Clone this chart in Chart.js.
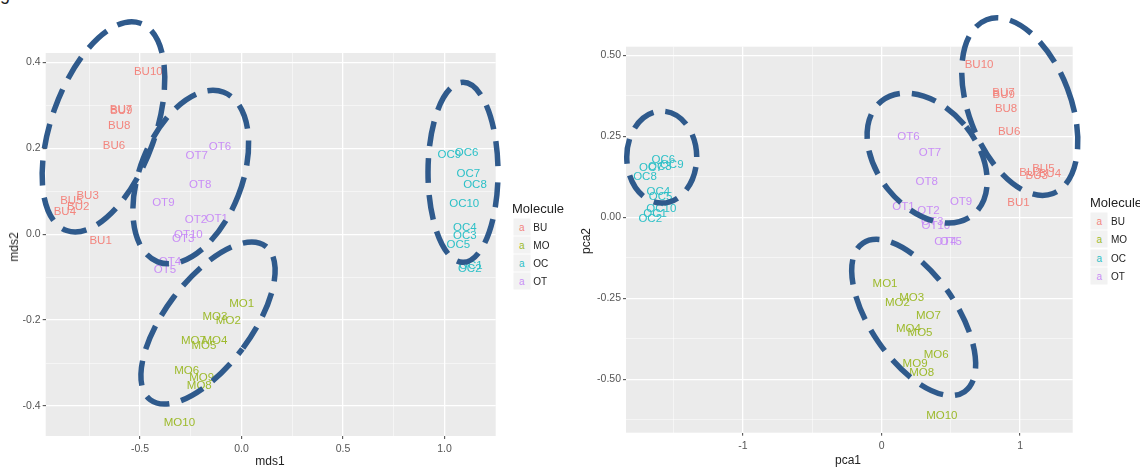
<!DOCTYPE html>
<html><head><meta charset="utf-8">
<script src="https://cdn.jsdelivr.net/npm/chart.js@4.4.1/dist/chart.umd.min.js"></script>
<style>
body{margin:0;background:#fff;width:1140px;height:468px;overflow:hidden;position:relative;font-family:"Liberation Sans",Arial,sans-serif;}
canvas{position:absolute;top:0;}
.t{position:absolute;white-space:nowrap;color:#222;}
.ttl{font-size:12px;transform:translate(-50%,-50%);}
.rot{transform:translate(-50%,-50%) rotate(-90deg);}
.lgt{font-size:13px;transform:translateY(-50%);}
.key{position:absolute;width:17px;height:17px;background:#f2f2f2;transform:translate(-50%,-50%);font-size:10px;line-height:17px;text-align:center;}
.lab{font-size:10px;transform:translateY(-50%);color:#222;}
</style></head><body>
<div class="t" style="left:0;top:-15px;font-size:18px;line-height:18px;color:#222;">gure 3 basis ratio</div>
<canvas id="c1" width="560" height="468" style="left:0;width:560px;height:468px"></canvas>
<canvas id="c2" width="580" height="468" style="left:560px;width:580px;height:468px"></canvas>
<div id="overlay"></div>
<script>
// ---------- categories ----------
const molecules = ["BU", "MO", "OC", "OT"];
const buLabels = ["BU1","BU2","BU3","BU4","BU5","BU6","BU7","BU8","BU9","BU10"];
const moLabels = ["MO1","MO2","MO3","MO4","MO5","MO6","MO7","MO8","MO9","MO10"];
const ocLabels = ["OC1","OC2","OC3","OC4","OC5","OC6","OC7","OC8","OC9","OC10"];
const otLabels = ["OT1","OT2","OT3","OT4","OT5","OT6","OT7","OT8","OT9","OT10"];

// ---------- MDS (left) ----------
const mdsBUx = [-0.694,-0.804,-0.758,-0.870,-0.838,-0.628,-0.594,-0.602,-0.592,-0.459];
const mdsBUy = [-0.016, 0.064, 0.089, 0.053, 0.078, 0.205, 0.290, 0.253, 0.287, 0.379];
const mdsMOx = [0.001,-0.065,-0.131,-0.131,-0.185,-0.270,-0.237,-0.208,-0.196,-0.306];
const mdsMOy = [-0.163,-0.201,-0.193,-0.249,-0.259,-0.318,-0.249,-0.353,-0.334,-0.439];
const mdsOCx = [1.130,1.124,1.100,1.100,1.068,1.109,1.117,1.150,1.024,1.097];
const mdsOCy = [-0.074,-0.081,-0.003,0.014,-0.025,0.189,0.141,0.115,0.184,0.071];
const mdsOTx = [-0.122,-0.224,-0.287,-0.352,-0.377,-0.106,-0.221,-0.204,-0.385,-0.262];
const mdsOTy = [0.035,0.033,-0.010,-0.064,-0.082,0.203,0.182,0.116,0.074,-0.002];

// ---------- PCA (right) ----------
const pcaBUx = [0.988,1.075,1.120,1.215,1.168,0.921,0.880,0.899,0.882,0.704];
const pcaBUy = [0.045,0.137,0.128,0.135,0.150,0.264,0.386,0.336,0.379,0.470];
const pcaMOx = [0.025,0.114,0.218,0.194,0.278,0.394,0.338,0.290,0.242,0.435];
const pcaMOy = [-0.206,-0.265,-0.247,-0.343,-0.356,-0.425,-0.305,-0.481,-0.451,-0.613];
const pcaOCx = [-1.635,-1.670,-1.600,-1.611,-1.595,-1.575,-1.665,-1.708,-1.515,-1.590];
const pcaOCy = [0.012,-0.005,0.155,0.078,0.062,0.179,0.152,0.125,0.161,0.025];
const pcaOTx = [0.158,0.338,0.365,0.462,0.500,0.194,0.350,0.326,0.574,0.392];
const pcaOTy = [0.031,0.020,-0.015,-0.075,-0.075,0.249,0.198,0.110,0.048,-0.025];

// ---------- ticks ----------
const mdsXTicks = [-0.5, 0.0, 0.5, 1.0];
const mdsXTickLabels = ["-0.5","0.0","0.5","1.0"];
const mdsXMinor = [-0.75,-0.25,0.25,0.75];
const mdsYTicks = [-0.4,-0.2,0.0,0.2,0.4];
const mdsYTickLabels = ["-0.4","-0.2","0.0","0.2","0.4"];
const mdsYMinor = [-0.3,-0.1,0.1,0.3];
const pcaXTicks = [-1, 0, 1];
const pcaXTickLabels = ["-1","0","1"];
const pcaXMinor = [-1.5,-0.5,0.5];
const pcaYTicks = [-0.5,-0.25,0.0,0.25,0.5];
const pcaYTickLabels = ["-0.50","-0.25","0.00","0.25","0.50"];
const pcaYMinor = [-0.625,-0.375,-0.125,0.125,0.375];

// ---------- styles ----------
const groupColors = ["#F3857E","#9DBA2C","#2DC0C7","#C98EF6"];
const ellipseColor = "#2F5A8C";
const FONT = '"Liberation Sans", Arial, sans-serif';

// hand-drawn annotation ellipses: centre in data units, radii in px, rotation in degrees
const mdsEllipses = [
  {x:-0.680, y:0.250, rx:52, ry:110, rot:19.6},
  {x:-0.250, y:0.133, rx:51, ry:91, rot:21.3},
  {x:-0.165, y:-0.207, rx:43, ry:96, rot:36.9},
  {x:1.091, y:0.144, rx:35, ry:90, rot:0}
];
const pcaEllipses = [
  {x:0.998, y:0.342, rx:51, ry:93, rot:-20.9},
  {x:0.329, y:0.183, rx:50, ry:73, rot:-38.7},
  {x:0.232, y:-0.309, rx:43, ry:90, rot:-34.4},
  {x:-1.587, y:0.186, rx:35, ry:46, rot:0}
];

function pts(xs, ys){ return xs.map((x,i)=>({x:x, y:ys[i]})); }

const bgPlugin = {
  id:'bg',
  beforeDraw(chart){
    const a = chart.chartArea, c = chart.ctx;
    c.save(); c.fillStyle = '#EBEBEB'; c.fillRect(a.left, a.top, a.right-a.left, a.bottom-a.top); c.restore();
  }
};
const textPlugin = {
  id:'txt',
  afterDatasetsDraw(chart){
    const c = chart.ctx;
    c.save();
    c.font = '11.5px ' + FONT;
    c.textAlign = 'center'; c.textBaseline = 'middle';
    chart.data.datasets.forEach((ds, i)=>{
      const meta = chart.getDatasetMeta(i);
      c.fillStyle = ds.textColor;
      meta.data.forEach((el, j)=>{ c.fillText(ds.pointLabels[j], el.x, el.y); });
    });
    c.restore();
  }
};
const ellipsePlugin = {
  id:'ell',
  afterDraw(chart){
    const c = chart.ctx, xs = chart.scales.x, ys = chart.scales.y;
    const list = chart.options.plugins.ell.list;
    c.save();
    c.strokeStyle = ellipseColor; c.lineWidth = 5.5; c.setLineDash([25,12]); c.lineCap = 'butt';
    list.forEach((e, k)=>{
      c.beginPath();
      c.lineDashOffset = k*9;
      c.ellipse(xs.getPixelForValue(e.x), ys.getPixelForValue(e.y), e.rx, e.ry, e.rot*Math.PI/180, 0, Math.PI*2);
      c.stroke();
    });
    c.restore();
  }
};

function axis(min, max, major, labels, minor, fitProp, fitVal, pad){
  const all = major.concat(minor).sort((a,b)=>a-b);
  const isMajor = v => major.indexOf(v) >= 0;
  return {
    type:'linear', min:min, max:max,
    afterBuildTicks(s){ s.ticks = all.map(v=>({value:v})); },
    afterFit(s){ s[fitProp] = fitVal; },
    border:{display:false},
    grid:{
      color: ctx => (ctx.tick && isMajor(ctx.tick.value)) ? '#FFFFFF' : 'rgba(255,255,255,0.85)',
      lineWidth: ctx => (ctx.tick && isMajor(ctx.tick.value)) ? 1.3 : 0.6,
      tickColor: ctx => (ctx.tick && isMajor(ctx.tick.value)) ? '#444' : 'rgba(0,0,0,0)',
      tickLength: 3, tickWidth: 1, drawTicks: true
    },
    ticks:{
      autoSkip:false, maxRotation:0, padding:pad, color:'#555',
      font:{size:10.5, family:FONT},
      callback: v => { const i = major.indexOf(v); return i >= 0 ? labels[i] : ''; }
    }
  };
}

function makeChart(id, series, opts){
  const datasets = series.map((s, i)=>({
    data: pts(s.x, s.y), pointLabels: s.labels, textColor: groupColors[i],
    pointRadius:0, pointHoverRadius:0, showLine:false
  }));
  return new Chart(document.getElementById(id), {
    type:'scatter',
    data:{datasets:datasets},
    options:{
      responsive:false, animation:false, devicePixelRatio:1,
      layout:{padding:{left:0, right:opts.padRight, top:opts.padTop, bottom:0}},
      events:[],
      plugins:{legend:{display:false}, tooltip:{enabled:false}, ell:{list:opts.ellipses}},
      scales:{
        x: axis(opts.xmin, opts.xmax, opts.xt, opts.xl, opts.xm, 'height', opts.xh, 4),
        y: axis(opts.ymin, opts.ymax, opts.yt, opts.yl, opts.ym, 'width', opts.yw, 2)
      }
    },
    plugins:[bgPlugin, textPlugin, ellipsePlugin]
  });
}

makeChart('c1', [
  {x:mdsBUx, y:mdsBUy, labels:buLabels},
  {x:mdsMOx, y:mdsMOy, labels:moLabels},
  {x:mdsOCx, y:mdsOCy, labels:ocLabels},
  {x:mdsOTx, y:mdsOTy, labels:otLabels}
], {xmin:-0.9645, xmax:1.252, ymin:-0.470, ymax:0.422,
    xt:mdsXTicks, xl:mdsXTickLabels, xm:mdsXMinor,
    yt:mdsYTicks, yl:mdsYTickLabels, ym:mdsYMinor,
    padRight:64.3, padTop:53, xh:32, yw:45.7, ellipses:mdsEllipses});

makeChart('c2', [
  {x:pcaBUx, y:pcaBUy, labels:buLabels},
  {x:pcaMOx, y:pcaMOy, labels:moLabels},
  {x:pcaOCx, y:pcaOCy, labels:ocLabels},
  {x:pcaOTx, y:pcaOTy, labels:otLabels}
], {xmin:-1.845, xmax:1.380, ymin:-0.665, ymax:0.527,
    xt:pcaXTicks, xl:pcaXTickLabels, xm:pcaXMinor,
    yt:pcaYTicks, yl:pcaYTickLabels, ym:pcaYMinor,
    padRight:67.3, padTop:46.7, xh:35.3, yw:66, ellipses:pcaEllipses});

// ---------- axis titles & legends (real text) ----------
const ov = document.getElementById('overlay');
function add(html){ ov.insertAdjacentHTML('beforeend', html); }
add('<div class="t ttl" style="left:270px;top:461px">mds1</div>');
add('<div class="t ttl rot" style="left:14px;top:247px">mds2</div>');
add('<div class="t ttl" style="left:848px;top:460px">pca1</div>');
add('<div class="t ttl rot" style="left:586px;top:241px">pca2</div>');
function legend(titleX, titleY, keyX, rowYs){
  add('<div class="t lgt" style="left:'+titleX+'px;top:'+titleY+'px">Molecule</div>');
  molecules.forEach((m, i)=>{
    add('<div class="key" style="left:'+keyX+'px;top:'+rowYs[i]+'px;color:'+groupColors[i]+'">a</div>');
    add('<div class="t lab" style="left:'+(keyX+11.6)+'px;top:'+rowYs[i]+'px">'+m+'</div>');
  });
}
legend(512, 208, 521.7, [226.7, 245, 263.3, 281]);
legend(1090, 202, 1099.4, [220.7, 239.3, 257.7, 276]);
</script>
</body></html>
